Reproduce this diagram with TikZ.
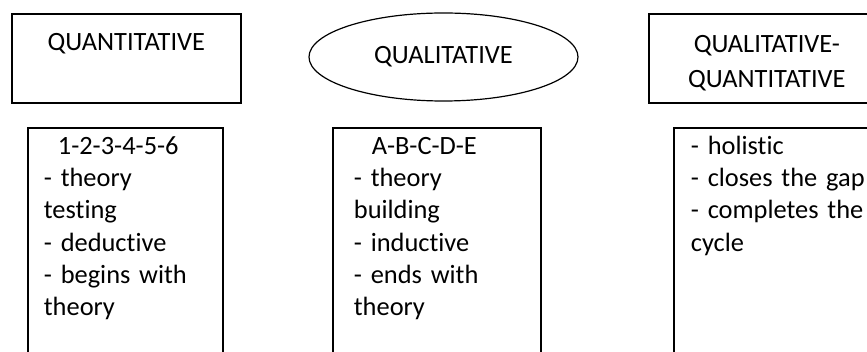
\documentclass[tikz,border=0pt]{standalone}
\usepackage{fontspec}
\setmainfont{Carlito}[Ligatures=NoCommon]
\usepackage{tikz}
\usetikzlibrary{shapes.geometric}
\tikzset{
  headbox/.style={
    draw,
    line width=1.8pt,
    anchor=north west,
    align=center,
    inner sep=0pt
  },
  ovalbox/.style={
    draw,
    ellipse,
    line width=1.2pt,
    inner sep=0pt
  },
  listbox/.style={
    draw,
    line width=1.8pt,
    anchor=north west,
    align=left,
    inner ysep=0pt,
    text height=26.5pt,
    text depth=260pt
  }
}

\begin{document}
\begin{tikzpicture}[
  x=1pt, y=-1pt,
  every node/.style={font=\fontsize{26.4}{32.3}\selectfont}
]
\clip (0,0) rectangle (867,352);
\node[headbox, text width=229pt, text height=37pt, text depth=52pt] (quant) at (11,13) {QUANTITATIVE};
\node[ovalbox, minimum width=269pt, minimum height=88pt] (qual) at (443.5,57) {QUALITATIVE};
\node[headbox, text width=236pt, text height=38.5pt, text depth=50.5pt,
      font=\fontsize{26.4}{35}\selectfont] (mixed) at (648,13) {QUALITATIVE-\\QUANTITATIVE};

\node[listbox, inner xsep=16pt, text width=163pt] (quantlist) at (27,127)
  {\hspace*{14pt}1-2-3-4-5-6\\- theory\\testing\\- deductive\\- begins with\\theory};
\node[listbox, inner xsep=21pt, text width=166pt] (quallist) at (332,127)
  {\hspace*{18pt}A-B-C-D-E\\- theory\\building\\- inductive\\- ends with\\theory};
\node[listbox, inner xsep=17pt, text width=190pt] (mixedlist) at (673,127)
  {- holistic\\- closes the gap\\- completes the\\cycle};
\end{tikzpicture}
\end{document}
